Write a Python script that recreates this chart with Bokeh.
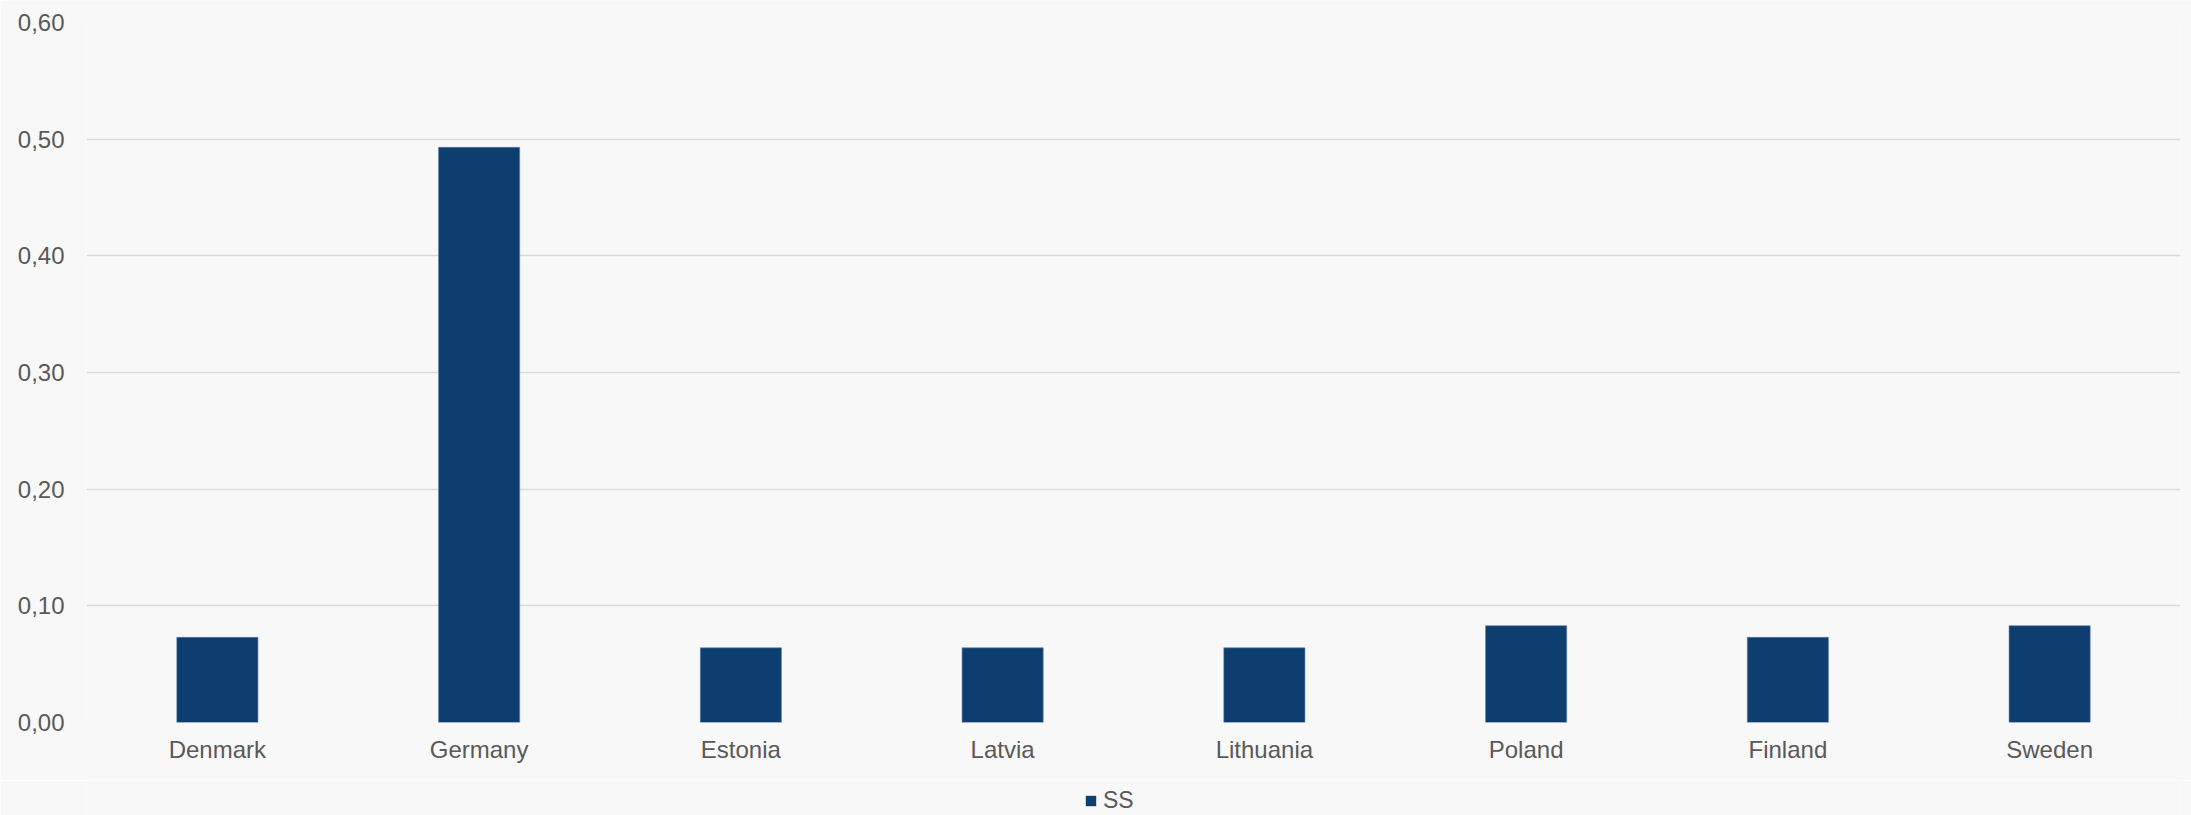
from bokeh.plotting import figure
from bokeh.layouts import column
from bokeh.models import ColumnDataSource, FixedTicker, Legend, LegendItem
from bokeh.embed import file_html
from bokeh.resources import INLINE

countries = ["Denmark", "Germany", "Estonia", "Latvia", "Lithuania", "Poland", "Finland", "Sweden"]
ss_values = [0.073, 0.493, 0.064, 0.064, 0.064, 0.083, 0.073, 0.083]
y_ticks = [0.0, 0.1, 0.2, 0.3, 0.4, 0.5, 0.6]
y_tick_labels = ["0,00", "0,10", "0,20", "0,30", "0,40", "0,50", "0,60"]
series_name = "SS"

BG = "#f8f8f8"
BAR = "#0e3e70"

src = ColumnDataSource(data=dict(x=countries, top=ss_values))

p = figure(x_range=countries, y_range=(0, 0.6), width=2191, height=780,
           output_backend="svg", toolbar_location=None,
           min_border_left=86, min_border_right=11, min_border_top=22, min_border_bottom=58)
p.background_fill_color = BG
p.border_fill_color = BG
p.outline_line_color = None

r = p.vbar(x="x", top="top", width=0.31, source=src, fill_color=BAR,
           line_color="#5f80a8", line_width=0.6)

p.xgrid.grid_line_color = None
p.ygrid.grid_line_color = "#d9d9d9"
p.ygrid.grid_line_width = 1.4

p.yaxis.ticker = FixedTicker(ticks=y_ticks)
p.yaxis.major_label_overrides = {t: l for t, l in zip(y_ticks, y_tick_labels)}
for ax in (p.xaxis[0], p.yaxis[0]):
    ax.axis_line_color = None
    ax.major_tick_line_color = None
    ax.minor_tick_line_color = None
    ax.major_label_text_font = "Liberation Sans"
    ax.major_label_text_font_size = "24px"
    ax.major_label_text_color = "#595959"
p.xaxis.major_label_standoff = 7
p.yaxis.major_label_standoff = 16

# legend strip below the chart (its frame is aligned with the chart frame)
lg = figure(width=2191, height=35, x_range=(0, 1), y_range=(0, 1),
            x_axis_type=None, y_axis_type=None,
            output_backend="svg", toolbar_location=None,
            min_border_left=0, min_border_right=0, min_border_top=0, min_border_bottom=0)
lg.background_fill_color = BG
lg.border_fill_color = BG
lg.outline_line_color = None
lg.grid.visible = False
lr = lg.vbar(x=[-5], top=[-5], bottom=[-6], width=0.3, fill_color=BAR, line_color=None)

legend = Legend(items=[LegendItem(label=series_name, renderers=[lr])],
                location=(998, 1), orientation="horizontal",
                padding=0, margin=0, glyph_width=13, glyph_height=13,
                label_standoff=6, label_text_font="Liberation Sans",
                label_text_font_size="23px", label_text_color="#595959",
                background_fill_alpha=0, border_line_color=None)
lg.add_layout(legend, "center")

layout = column(p, lg, spacing=0)
open("out.html", "w").write(file_html(layout, INLINE))
